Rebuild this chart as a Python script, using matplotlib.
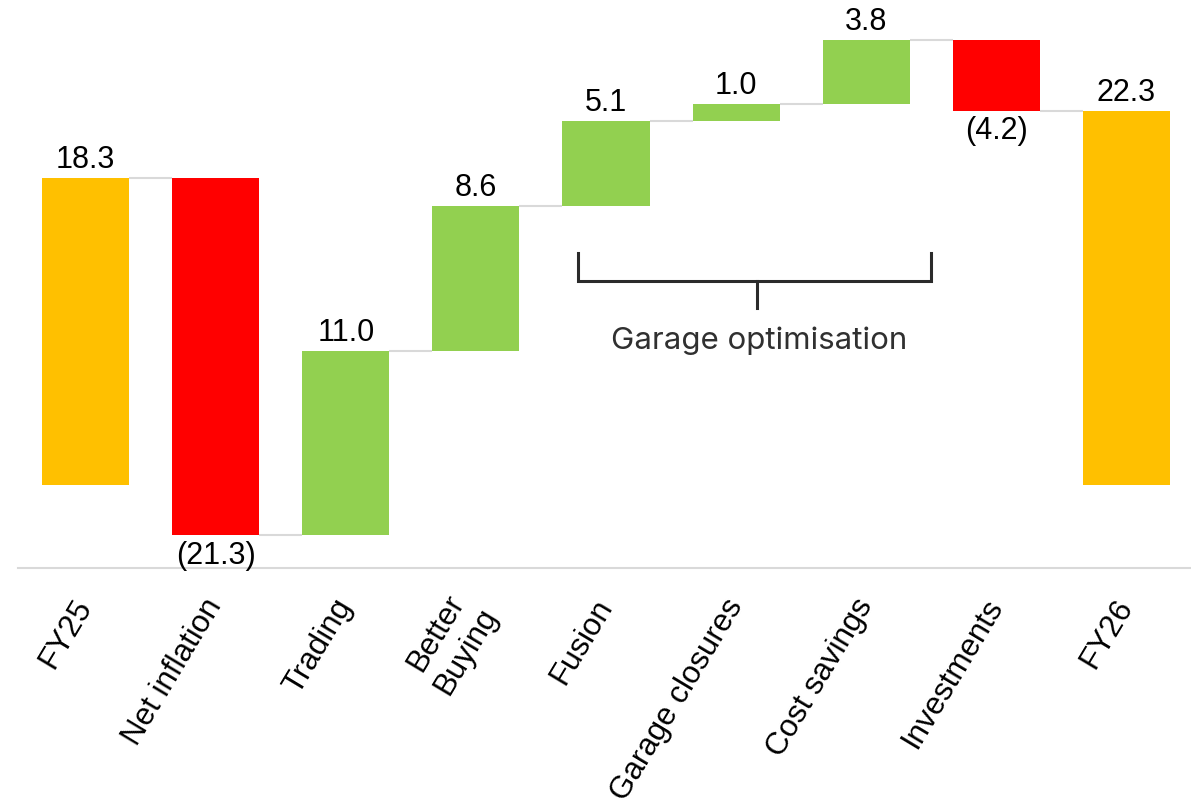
import matplotlib
matplotlib.use('Agg')
import matplotlib.pyplot as plt
import numpy as np

categories = ["FY25", "Net inflation", "Trading", "Better\nBuying", "Fusion",
              "Garage closures", "Cost savings", "Investments", "FY26"]
values = [18.3, -21.3, 11.0, 8.6, 5.1, 1.0, 3.8, -4.2, 22.3]
is_total = [True, False, False, False, False, False, False, False, True]
value_labels = ["18.3", "(21.3)", "11.0", "8.6", "5.1", "1.0", "3.8", "(4.2)", "22.3"]
bracket_label = "Garage optimisation"

TOTAL_C = '#FFC000'
UP_C = '#92D050'
DOWN_C = '#FF0000'

plt.rcParams['font.family'] = ['Liberation Sans', 'DejaVu Sans']

W, H = 1191, 806
fig = plt.figure(figsize=(W / 100, H / 100), dpi=100)
ax = fig.add_axes([18 / W, 1 - 568 / H, 1173 / W, 568 / H])

x = np.arange(len(categories))
bottoms, heights, colors, ends = [], [], [], []
running = 0.0
for v, t in zip(values, is_total):
    if t:
        bottoms.append(0.0)
        heights.append(v)
        colors.append(TOTAL_C)
        running = v
    else:
        bottoms.append(running)
        heights.append(v)
        colors.append(UP_C if v > 0 else DOWN_C)
        running = running + v
    ends.append(running)

bw = 0.67
ax.bar(x, heights, bottom=bottoms, width=bw, color=colors, zorder=2)

# connectors
for i in range(len(x) - 1):
    ax.plot([x[i] + bw / 2, x[i + 1] - bw / 2], [ends[i], ends[i]],
            color='#d9d9d9', lw=1.5, zorder=1, solid_capstyle='butt')

# value labels
for i, (b, h, lab) in enumerate(zip(bottoms, heights, value_labels)):
    if h >= 0:
        ax.annotate(lab, (x[i], b + h), xytext=(0, 7.2), textcoords='offset points',
                    ha='center', va='baseline', fontsize=22, color='black')
    else:
        ax.annotate(lab, (x[i], b + h), xytext=(0, -4), textcoords='offset points',
                    ha='center', va='top', fontsize=22, color='black')

# bracket for garage optimisation
bx0, bx1, bxc = x[4] - 0.215, x[6] + 0.5, x[5] + 0.16
by_top, by_mid, by_bot = 13.82, 12.15, 10.54
bc = '#2b2b2b'
ax.plot([bx0, bx0, bx1, bx1], [by_top, by_mid, by_mid, by_top], color=bc, lw=2.2,
        solid_joinstyle='miter', zorder=3)
ax.plot([bxc, bxc], [by_mid, by_bot], color=bc, lw=2.2, zorder=3)
ax.text(bxc + 0.02, 8.58, bracket_label, ha='center', va='center', fontsize=22.5,
        color='#303030', family=['Inter', 'DejaVu Sans'])

ax.set_xlim(-0.519, 8.496)
ax.set_ylim(-4.94, 28.89)
ax.set_xticks(x)
ax.set_xticklabels(categories, rotation=59, ha='right', rotation_mode='anchor',
                   va='center', fontsize=22.5, multialignment='center')
ax.tick_params(axis='x', length=0, pad=24)
ax.set_yticks([])
for s in ['left', 'right', 'top']:
    ax.spines[s].set_visible(False)
ax.spines['bottom'].set_color('#d9d9d9')
ax.spines['bottom'].set_linewidth(1.5)

fig.savefig('out.png', dpi=100)
